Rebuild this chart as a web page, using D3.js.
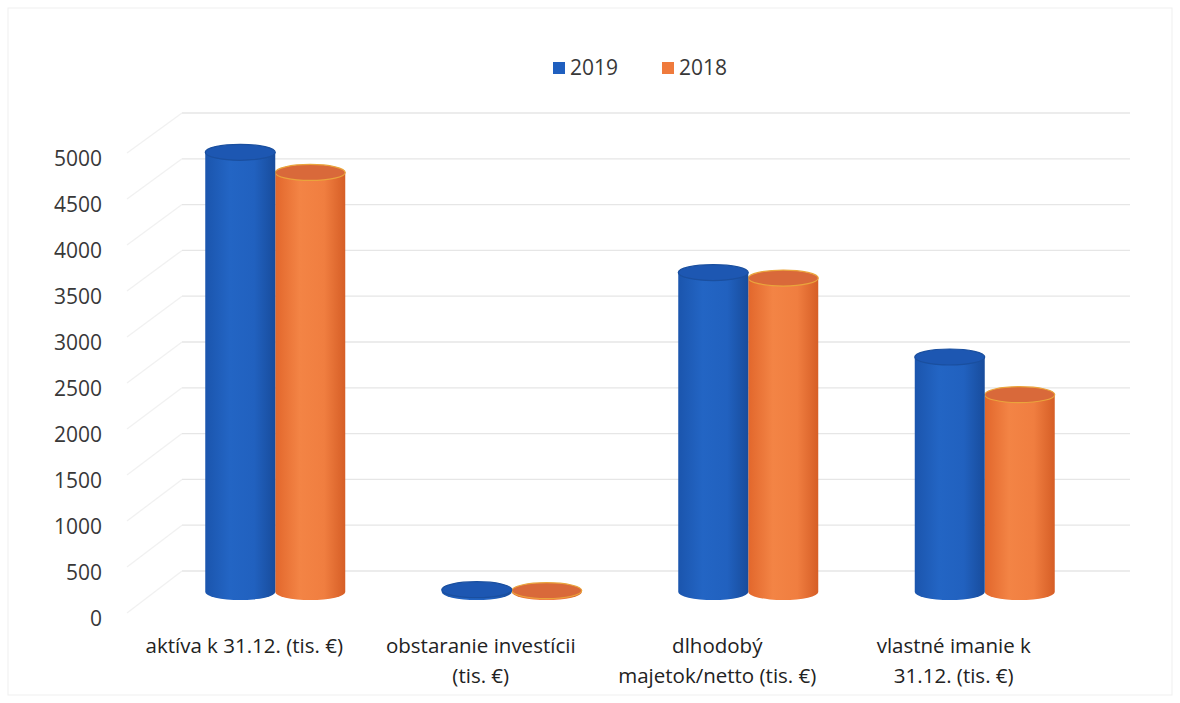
<html>
<head>
<meta charset="utf-8">
<script src="https://d3js.org/d3.v7.min.js"></script>
<style>
  body { margin: 0; background: #fff; }
  svg { font-family: "Open Sans", sans-serif; }
  .tick-label { font-size: 21px; fill: #383838; }
  .cat-label { font-size: 20.5px; fill: #222; }
  .legend-text { font-size: 21px; fill: #383838; }
</style>
</head>
<body>
<div id="chart"></div>
<script>
var categories = [
  ["aktíva k 31.12. (tis. €)"],
  ["obstaranie investícii", "(tis. €)"],
  ["dlhodobý", "majetok/netto (tis. €)"],
  ["vlastné imanie k", "31.12. (tis. €)"]
];
var catKeys = ["aktiva", "obstaranie", "dlhodoby", "vlastne"];
var seriesNames = ["2019", "2018"];
var values2019 = [4790, 25, 3480, 2560];
var values2018 = [4570, 15, 3420, 2150];
var yTicks = [0, 500, 1000, 1500, 2000, 2500, 3000, 3500, 4000, 4500, 5000];

var width = 1180, height = 703;
var blue = "#1f5fbf", orange = "#ef7a3c";

var svg = d3.select("#chart").append("svg")
  .attr("width", width).attr("height", height);

/* frame */
svg.append("rect")
  .attr("x", 8).attr("y", 8).attr("width", width - 16).attr("height", height - 16)
  .attr("fill", "none").attr("stroke", "#efefef");

/* gradients */
var defs = svg.append("defs");
function grad(id, stops) {
  var g = defs.append("linearGradient").attr("id", id)
    .attr("x1", "0").attr("x2", "1").attr("y1", "0").attr("y2", "0");
  stops.forEach(function(s) {
    g.append("stop").attr("offset", s[0]).attr("stop-color", s[1]);
  });
}
grad("g2019", [["0", "#1b55ad"], ["0.35", "#2365c4"], ["0.7", "#2161bf"], ["1", "#184c9c"]]);
grad("g2018", [["0", "#e2672c"], ["0.35", "#f38445"], ["0.7", "#f07e40"], ["1", "#d65e26"]]);

/* scales: front edge of side wall, back wall, bars mid-depth */
var yFront = d3.scaleLinear().domain([0, 5000]).range([613, 153]);
var yBack = d3.scaleLinear().domain([0, 5000]).range([571, 113]);
var yBar = d3.scaleLinear().domain([0, 5000]).range([592, 133]);

var x = d3.scaleBand().domain(catKeys).range([157, 1103]);
var xInner = d3.scaleBand().domain(seriesNames).range([-70, 70]);
var frontX = 127, backX = 182, backRight = 1130;

/* grid: side wall diagonals + back wall lines */
var grid = svg.append("g").attr("stroke-width", 1.3);
grid.selectAll(".diag").data(yTicks).enter().append("line")
  .attr("x1", frontX).attr("y1", d => yFront(d))
  .attr("x2", backX).attr("y2", d => yBack(d))
  .attr("stroke", "#f1f1f1");
grid.selectAll(".hline").data(yTicks).enter().append("line")
  .attr("x1", backX).attr("x2", backRight)
  .attr("y1", d => yBack(d)).attr("y2", d => yBack(d))
  .attr("stroke", "#e6e6e6");

/* y labels */
svg.append("g").selectAll("text").data(yTicks).enter().append("text")
  .attr("class", "tick-label")
  .attr("x", 102).attr("y", d => yFront(d) + 7)
  .attr("text-anchor", "end")
  .attr("dominant-baseline", "middle")
  .text(d => d);

/* cylinders */
var rx = 35, ry = 8;
var bars = [];
catKeys.forEach(function(k, i) {
  bars.push({cat: k, s: "2018", v: values2018[i]});
  bars.push({cat: k, s: "2019", v: values2019[i]});
});

var cyl = svg.append("g").selectAll("g").data(bars).enter().append("g");

cyl.append("path")
  .attr("d", function(d) {
    var cx = x(d.cat) + x.bandwidth() / 2 + xInner(d.s) + xInner.bandwidth() / 2;
    var y0 = yBar(0), y1 = yBar(d.v);
    return "M" + (cx - rx) + "," + y1 +
      "L" + (cx - rx) + "," + y0 +
      "A" + rx + "," + ry + " 0 0 0 " + (cx + rx) + "," + y0 +
      "L" + (cx + rx) + "," + y1 + "Z";
  })
  .attr("fill", d => "url(#g" + d.s + ")");

cyl.append("ellipse")
  .attr("cx", d => x(d.cat) + x.bandwidth() / 2 + xInner(d.s) + xInner.bandwidth() / 2)
  .attr("cy", d => yBar(d.v))
  .attr("rx", rx).attr("ry", ry)
  .attr("fill", d => d.s === "2019" ? "#1d57b2" : "#d9693a")
  .attr("stroke", d => d.s === "2019" ? "#1a4f9f" : "#eaa43c")
  .attr("stroke-width", 1.2);

/* category labels */
var cats = svg.append("g").selectAll("text").data(catKeys).enter().append("text")
  .attr("class", "cat-label")
  .attr("text-anchor", "middle")
  .attr("x", d => x(d) + x.bandwidth() / 2 - 31)
  .attr("y", 653);
cats.selectAll("tspan").data((d, i) => categories[i]).enter().append("tspan")
  .attr("x", function() { return d3.select(this.parentNode).attr("x"); })
  .attr("dy", (d, j) => j === 0 ? 0 : 30)
  .text(d => d);

/* legend */
var legend = svg.append("g").selectAll("g").data(seriesNames).enter().append("g")
  .attr("transform", (d, i) => "translate(" + (553 + i * 109) + ",62)");
legend.append("rect").attr("width", 12).attr("height", 12)
  .attr("fill", d => d === "2019" ? blue : orange);
legend.append("text").attr("class", "legend-text")
  .attr("x", 17).attr("y", 13).text(d => d);
</script>
</body>
</html>
